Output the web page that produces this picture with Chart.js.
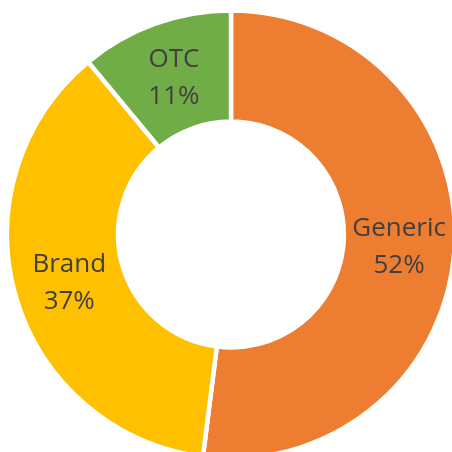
<!DOCTYPE html>
<html>
<head>
<meta charset="utf-8">
<script src="https://cdn.jsdelivr.net/npm/chart.js@4/dist/chart.umd.min.js"></script>
<style>
  html, body { margin: 0; padding: 0; background: #ffffff; }
  #wrap { position: relative; width: 452px; height: 452px; overflow: hidden; }
</style>
</head>
<body>
<div id="wrap"><canvas id="chart" width="452" height="452"></canvas></div>
<script>
  // Datos del gráfico.
  const categories = ['Generic', 'Brand', 'OTC'];
  const shares = [52, 37, 11];
  const sliceColors = ['#ED7D31', '#FFC000', '#70AD47'];

  // Etiquetas dentro de cada sector: nombre y porcentaje.
  const sliceLabels = {
    id: 'sliceLabels',
    afterDatasetsDraw: function (chart) {
      const ctx = chart.ctx;
      const meta = chart.getDatasetMeta(0);
      const total = shares.reduce(function (a, b) { return a + b; }, 0);
      ctx.save();
      ctx.fillStyle = '#404040';
      ctx.font = "26px 'Open Sans', sans-serif";
      ctx.textAlign = 'center';
      ctx.textBaseline = 'alphabetic';
      meta.data.forEach(function (arc, i) {
        const p = arc.getCenterPoint();
        const pct = Math.round(shares[i] / total * 100) + '%';
        ctx.fillText(categories[i], p.x, p.y - 9);
        ctx.fillText(pct, p.x, p.y + 28);
      });
      ctx.restore();
    }
  };

  new Chart(document.getElementById('chart').getContext('2d'), {
    type: 'doughnut',
    data: {
      labels: categories,
      datasets: [{
        data: shares,
        backgroundColor: sliceColors,
        borderColor: '#ffffff',
        borderWidth: 4.5,
        clip: false
      }]
    },
    options: {
      responsive: false,
      animation: false,
      radius: 224,
      cutout: '50.4%',
      rotation: 0,
      layout: { padding: { left: 10, top: 17, right: 0, bottom: 0 } },
      plugins: {
        legend: { display: false },
        tooltip: { enabled: false }
      }
    },
    plugins: [sliceLabels]
  });
</script>
</body>
</html>
